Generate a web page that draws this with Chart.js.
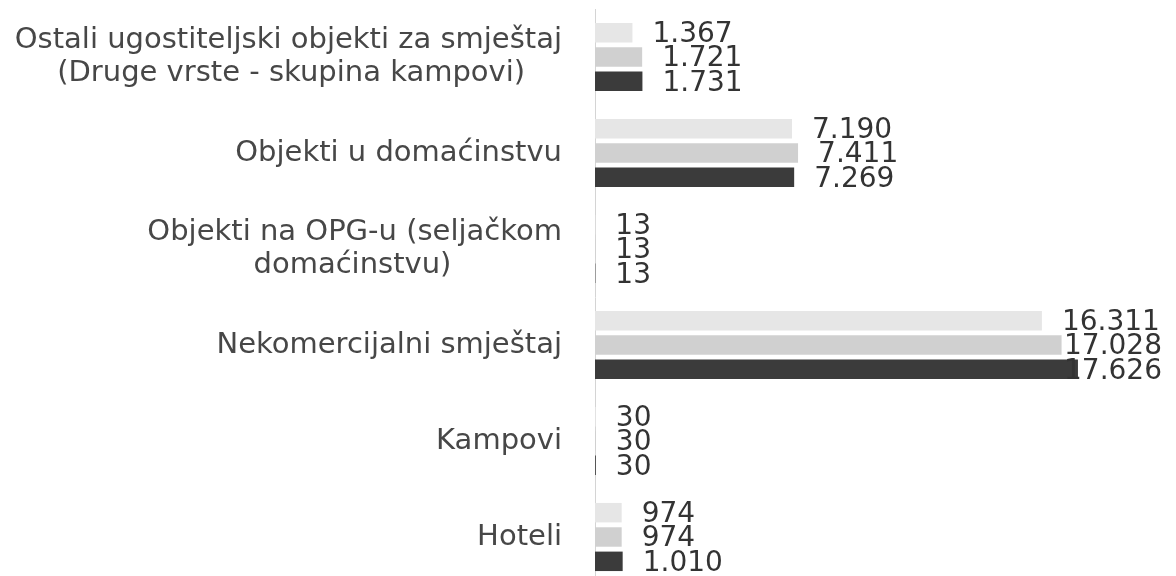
<!DOCTYPE html>
<html><head><meta charset="utf-8">
<script src="https://cdn.jsdelivr.net/npm/chart.js@4"></script>
<style>html,body{margin:0;padding:0;background:#fff;overflow:hidden}
#wrap{width:1176px;height:585px;position:relative}</style>
</head><body><div id="wrap"><canvas id="c"></canvas></div>
<script>
const categories = [
  ["Ostali ugostiteljski objekti za smještaj", "(Druge vrste - skupina kampovi)"],
  "Objekti u domaćinstvu",
  ["Objekti na OPG-u (seljačkom", "domaćinstvu)"],
  "Nekomercijalni smještaj",
  "Kampovi",
  "Hoteli"
];
const series1 = [1367, 7190, 13, 16311, 30, 974];
const series2 = [1721, 7411, 13, 17028, 30, 974];
const series3 = [1731, 7269, 13, 17626, 30, 1010];
const seriesNames = ["Serija 1", "Serija 2", "Serija 3"];

const catFont = '29px "DejaVu Sans"';
const valFont = '28px "DejaVu Sans"';
function fmt(n){ return String(n).replace(/\B(?=(\d{3})+(?!\d))/g, '.'); }

const mctx = document.createElement('canvas').getContext('2d');
mctx.font = catFont;
function centeredLines(lab){
  if (!Array.isArray(lab)) return lab;
  const ws = lab.map(s => mctx.measureText(s).width);
  const maxW = Math.max(...ws);
  const sp = mctx.measureText('\u00a0').width;
  return lab.map((s, i) => s + '\u00a0'.repeat(Math.max(0, Math.round((maxW - ws[i]) / 2 / sp))));
}

const valueLabels = {
  id: 'valueLabels',
  afterDatasetsDraw(chart){
    const ctx = chart.ctx;
    ctx.save();
    ctx.font = valFont;
    ctx.fillStyle = '#333333';
    ctx.textBaseline = 'middle';
    ctx.textAlign = 'left';
    chart.data.datasets.forEach((ds, i) => {
      const meta = chart.getDatasetMeta(i);
      meta.data.forEach((el, j) => {
        const t = fmt(ds.data[j]);
        const w = ctx.measureText(t).width;
        let x = el.x + 20;
        if (x + w > 1162) x = 1162 - w;
        ctx.fillText(t, x, el.y + 2);
      });
    });
    ctx.restore();
  }
};

new Chart(document.getElementById('c'), {
  type: 'bar',
  data: {
    labels: categories,
    datasets: [
      { label: seriesNames[0], data: series1, backgroundColor: '#e6e6e6' },
      { label: seriesNames[1], data: series2, backgroundColor: '#d0d0d0' },
      { label: seriesNames[2], data: series3, backgroundColor: '#3b3b3b' }
    ]
  },
  options: {
    indexAxis: 'y',
    responsive: true,
    maintainAspectRatio: false,
    animation: false,
    layout: { padding: { top: 9, right: 33, bottom: 0, left: 0 } },
    datasets: { bar: { categoryPercentage: 0.76, barPercentage: 0.8 } },
    plugins: { legend: { display: false }, tooltip: { enabled: false } },
    scales: {
      x: { display: false, min: 0, max: 20000 },
      y: {
        grid: { display: false, drawTicks: false },
        border: { display: true, color: '#d4d4d4', width: 1, dash: [2, 1] },
        ticks: {
          font: { family: 'DejaVu Sans', size: 29, lineHeight: 1.15 },
          color: '#474747',
          padding: 33,
          callback: function(v, i){ return centeredLines(categories[i]); }
        },
        afterFit(scale){
          scale.width = 595;
          scale.paddingTop = 0;
          scale.paddingBottom = 0;
        }
      }
    }
  },
  plugins: [valueLabels]
});
</script>
</body></html>
